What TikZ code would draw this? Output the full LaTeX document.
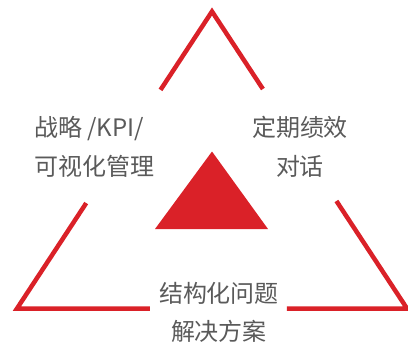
\documentclass[tikz,border=0pt]{standalone}
\usepackage{fontspec}
\newfontfamily\cjk{Noto Sans CJK SC}
\usetikzlibrary{calc}
\definecolor{bigred}{RGB}{218,33,40}
\definecolor{txtgray}{RGB}{90,90,90}
\begin{document}
\begin{tikzpicture}[x=1pt,y=-1pt,
  frame/.style={draw=bigred, line width=4.5pt, line join=miter},
  core/.style={fill=bigred, draw=none},
  lbl/.style={font=\cjk\fontsize{24}{28}\selectfont, text=txtgray, inner sep=0pt}]
\useasboundingbox (0,0) rectangle (408,343);
\coordinate (A) at (212,11.5);
\coordinate (B) at (17,308.5);
\coordinate (C) at (407,308.5);
\coordinate (ab1) at ($(A)!0.264!(B)$);
\coordinate (ab2) at ($(A)!0.645!(B)$);
\coordinate (ac1) at ($(A)!0.261!(C)$);
\coordinate (ac2) at ($(A)!0.638!(C)$);
\coordinate (bc1) at ($(B)!0.341!(C)$);
\coordinate (bc2) at ($(B)!0.692!(C)$);
\draw[frame] (ab1) -- (A) -- (ac1);
\draw[frame] (ab2) -- (B) -- (bc1);
\draw[frame] (bc2) -- (C) -- (ac2);
\coordinate (T1) at (212,151.5);
\coordinate (T2) at (155,229);
\coordinate (T3) at (268,229);
\fill[core] (T1) -- (T2) -- (T3) -- cycle;
\node[lbl, anchor=base west] (l1) at (34,136) {战略 /KPI/};
\node[lbl, anchor=base west] (l2) at (34,175) {可视化管理};
\node[lbl, anchor=base] (r1) at (300,136) {定期绩效};
\node[lbl, anchor=base] (r2) at (300,175) {对话};
\node[lbl, anchor=base] (b1) at (219,302.5) {结构化问题};
\node[lbl, anchor=base] (b2) at (219,340) {解决方案};
\end{tikzpicture}
\end{document}
